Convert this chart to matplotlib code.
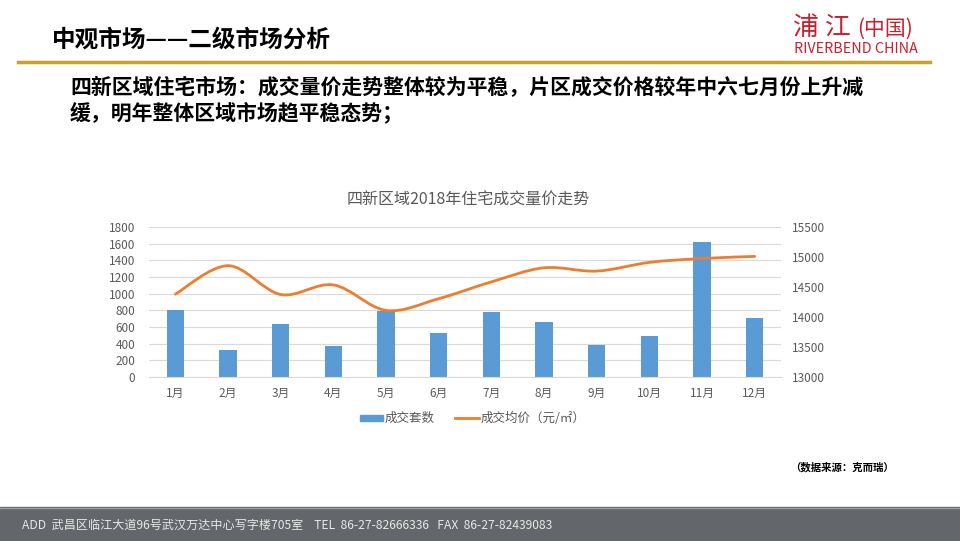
import numpy as np
import matplotlib
matplotlib.use('Agg')
import matplotlib.pyplot as plt
from matplotlib.path import Path
from matplotlib.patches import PathPatch, Rectangle
from matplotlib.lines import Line2D

plt.rcParams['font.family'] = ['Noto Sans CJK SC', 'DejaVu Sans']

################################## DATA ##################################

months = ['1月', '2月', '3月', '4月', '5月', '6月', '7月', '8月', '9月', '10月', '11月', '12月']
units = [810, 320, 635, 375, 790, 525, 780, 655, 380, 490, 1615, 705]
prices = [14380, 14855, 14375, 14535, 14110, 14305, 14585, 14820, 14765, 14910, 14975, 15010]

left_ticks = [0, 200, 400, 600, 800, 1000, 1200, 1400, 1600, 1800]
right_ticks = [13000, 13500, 14000, 14500, 15000, 15500]

page_title = '中观市场——二级市场分析'
summary = ['四新区域住宅市场：成交量价走势整体较为平稳，片区成交价格较年中六七月份上升减',
           '缓，明年整体区域市场趋平稳态势；']
chart_title = '四新区域2018年住宅成交量价走势'
legend_labels = ['成交套数', '成交均价（元/㎡）']
source = '（数据来源：克而瑞）'
footer = 'ADD  武昌区临江大道96号武汉万达中心写字楼705室    TEL  86-27-82666336   FAX  86-27-82439083'

BLUE = '#5b9bd5'
ORANGE = '#ed7d31'
GREY = '#595959'
RED = '#c8202f'

################################## FIGURE ##################################

W, H = 960, 541
fig = plt.figure(figsize=(W / 100, H / 100), dpi=100)


def fx(px):
    return px / W


def fy(py):
    return 1 - py / H


# header
fig.text(fx(52), fy(40), page_title, fontsize=17, fontweight='bold', va='center', ha='left')
fig.text(fx(793), fy(35), '浦', fontsize=18.5, color=RED, va='baseline', ha='left')
fig.text(fx(825), fy(35), '江', fontsize=18.5, color=RED, va='baseline', ha='left')
fig.text(fx(857), fy(35), '(中国)', fontsize=15, color=RED, va='baseline', ha='left',
         fontweight='light')
fig.text(fx(794), fy(53), 'RIVERBEND CHINA', fontsize=10.3, color=RED, va='baseline', ha='left')
fig.add_artist(Line2D([fx(18), fx(930)], [fy(62), fy(62)], color='#c9a227', lw=2.5))

fig.text(fx(70), fy(88), summary[0], fontsize=15, fontweight='bold', va='center', ha='left')
fig.text(fx(70), fy(112), summary[1], fontsize=15, fontweight='bold', va='center', ha='left')

# chart
fig.text(fx(468), fy(200), chart_title, fontsize=11.5, color=GREY, va='center', ha='center')

ax = fig.add_axes([fx(149), fy(377), fx(781 - 149), (377 - 227) / H])
x = np.arange(len(months))
ax.bar(x, units, width=0.33, color=BLUE, zorder=2)
ax.set_xlim(-0.5, len(months) - 0.5)
ax.set_ylim(0, 1800)
ax.set_yticks(left_ticks)
ax.set_xticks(x)
ax.set_xticklabels(months)
ax.grid(axis='y', color='#d9d9d9', lw=0.8, zorder=0)
for s in ['top', 'left', 'right']:
    ax.spines[s].set_visible(False)
ax.spines['bottom'].set_color('#d9d9d9')
ax.tick_params(length=0, labelsize=8.5, labelcolor=GREY)
ax.tick_params(axis='x', pad=7)
ax.tick_params(axis='y', pad=10)

ax2 = ax.twinx()
ax2.set_ylim(13000, 15500)
ax2.set_yticks(right_ticks)
for s in ax2.spines.values():
    s.set_visible(False)
ax2.tick_params(length=0, labelsize=8.5, labelcolor=GREY, pad=8)

# smoothed price line (Bezier through the points, like Excel's smoothing)
pts = np.column_stack([x, prices]).astype(float)
ext = np.vstack([pts[0], pts, pts[-1]])
verts = [tuple(pts[0])]
codes = [Path.MOVETO]
for i in range(1, len(ext) - 2):
    p0, p1, p2, p3 = ext[i - 1], ext[i], ext[i + 1], ext[i + 2]
    c1 = p1 + (p2 - p0) / 6
    c2 = p2 - (p3 - p1) / 6
    verts += [tuple(c1), tuple(c2), tuple(p2)]
    codes += [Path.CURVE4] * 3
ax2.add_patch(PathPatch(Path(verts, codes), facecolor='none', edgecolor=ORANGE, lw=2.0,
                        capstyle='round', zorder=3))

# legend
fig.add_artist(Rectangle((fx(360), fy(421)), fx(23), 6 / H, color=BLUE))
fig.text(fx(385), fy(418), legend_labels[0], fontsize=9, color=GREY, va='center', ha='left')
fig.add_artist(Line2D([fx(455), fx(479)], [fy(418), fy(418)], color=ORANGE, lw=2))
fig.text(fx(481), fy(418), legend_labels[1], fontsize=9, color=GREY, va='center', ha='left')

# source
fig.text(fx(894), fy(467), source, fontsize=7.5, fontweight='bold', va='center', ha='right')

# footer
fig.add_artist(Rectangle((0, 0), 1, (541 - 507) / H, color='#63666a'))
fig.add_artist(Line2D([0, 1], [fy(508), fy(508)], color='#9a9c9e', lw=1))
fig.text(fx(22), fy(525), footer, fontsize=8.7, color='#e8e8e8', va='center', ha='left')

fig.savefig('out.png', dpi=100)
